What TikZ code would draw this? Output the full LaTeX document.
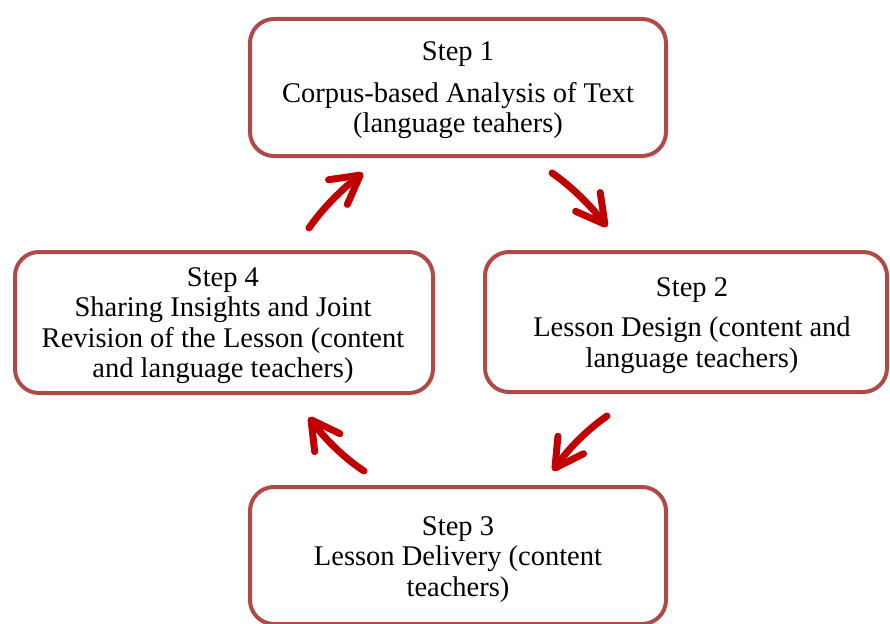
\documentclass[tikz,border=0pt]{standalone}
\usepackage{fontspec}
\setmainfont{Liberation Serif}
\usetikzlibrary{arrows.meta}
\definecolor{boxred}{HTML}{B04A48}
\definecolor{arrred}{HTML}{C00000}
\begin{document}
\begin{tikzpicture}[x=1pt,y=-1pt,
  stepbox/.style={draw=boxred, line width=4pt, rounded corners=24pt, fill=white, inner sep=0pt},
  steptext/.style={align=center, inner sep=0pt, font=\fontsize{28.5}{30.5}\selectfont},
  cyc/.style={draw=arrred, line width=7pt, line cap=round,
    -{Straight Barb[length=28pt,width=31pt,round]}}]
\useasboundingbox (0,0) rectangle (890,623);
\clip (0,0) rectangle (890,623);
% boxes
\node[stepbox, minimum width=416pt, minimum height=137pt] (b1) at (458,87.5) {};
\node[stepbox, minimum width=402pt, minimum height=140pt] (b2) at (686,322) {};
\node[stepbox, minimum width=416pt, minimum height=137pt] (b3) at (458,555.5) {};
\node[stepbox, minimum width=418pt, minimum height=141pt] (b4) at (224,322.5) {};
% texts
\node[steptext] (t1) at (458,90.5) {Step 1\\[11pt]Corpus-based Analysis of Text\\(language teahers)};
\node[steptext] (t2) at (692,325.5) {Step 2\\[10pt]Lesson Design (content and\\language teachers)};
\node[steptext] (t3) at (458,559.5) {Step 3\\Lesson Delivery (content\\teachers)};
\node[steptext] (t4) at (223,325.5) {Step 4\\Sharing Insights and Joint\\Revision of the Lesson (content\\and language teachers)};
% arrow end points
\coordinate (a1s) at (309,228); \coordinate (a1e) at (363,173);
\coordinate (a2s) at (552,173); \coordinate (a2e) at (607,227);
\coordinate (a3s) at (607,416); \coordinate (a3e) at (553,471);
\coordinate (a4s) at (364,471); \coordinate (a4e) at (309,417);
\draw[cyc] (a1s) .. controls (322,209) and (342,189) .. (a1e);
\draw[cyc] (a2s) .. controls (571,186) and (591,206) .. (a2e);
\draw[cyc] (a3s) .. controls (588,429) and (568,449) .. (a3e);
\draw[cyc] (a4s) .. controls (344,458) and (324,438) .. (a4e);
\end{tikzpicture}
\end{document}
